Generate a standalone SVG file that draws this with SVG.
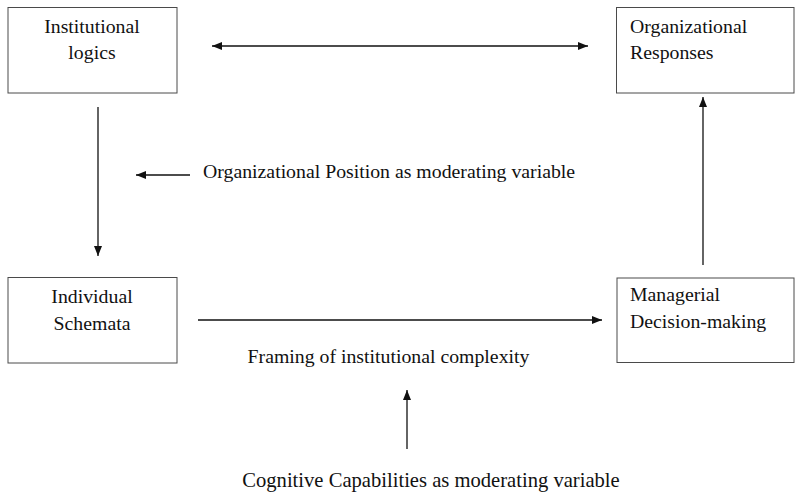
<svg xmlns="http://www.w3.org/2000/svg" width="795" height="492" viewBox="0 0 795 492">
<style>
.box{fill:#fff;stroke:#4a4a4a;stroke-width:1}
.t{font-family:"Liberation Serif","Times New Roman",serif;font-size:19.8px;fill:#111}
.c{text-anchor:middle}
.ln{stroke:#111;stroke-width:1.3;fill:none}
</style>
<defs>
<marker id="ah" viewBox="0 0 10 8" refX="10" refY="4" markerWidth="10" markerHeight="8" markerUnits="userSpaceOnUse" orient="auto-start-reverse">
<path d="M0,0 L10,4 L0,8 Z" fill="#111"/>
</marker>
</defs>
<rect width="795" height="492" fill="#fff"/>
<g id="institutional-logics">
<rect class="box" x="8" y="7.5" width="169" height="85.5"/>
<text class="t c" x="92" y="33">Institutional</text>
<text class="t c" x="92" y="59">logics</text>
</g>
<g id="organizational-responses">
<rect class="box" x="616.5" y="7.5" width="177.5" height="85.5"/>
<text class="t" x="630" y="33">Organizational</text>
<text class="t" x="630" y="59">Responses</text>
</g>
<g id="individual-schemata">
<rect class="box" x="8" y="277.5" width="169" height="85.5"/>
<text class="t c" x="92" y="303">Individual</text>
<text class="t c" x="92" y="330">Schemata</text>
</g>
<g id="managerial-decision-making">
<rect class="box" x="617" y="278" width="177" height="84.5"/>
<text class="t" x="630" y="301">Managerial</text>
<text class="t" x="630" y="328">Decision-making</text>
</g>
<g id="label-position">
<text class="t" x="203" y="178">Organizational Position as moderating variable</text>
</g>
<g id="label-framing">
<text class="t c" x="388.5" y="363">Framing of institutional complexity</text>
</g>
<g id="label-cognitive">
<text class="t c" x="431" y="487" style="font-size:20.6px">Cognitive Capabilities as moderating variable</text>
</g>
<g id="connectors">
<line class="ln" x1="212" y1="46" x2="588" y2="46" marker-start="url(#ah)" marker-end="url(#ah)"/>
<line class="ln" x1="98" y1="107" x2="98" y2="256" marker-end="url(#ah)"/>
<line class="ln" x1="190" y1="175" x2="136" y2="175" marker-end="url(#ah)"/>
<line class="ln" x1="703" y1="265" x2="703" y2="97" marker-end="url(#ah)"/>
<line class="ln" x1="198" y1="320" x2="602" y2="320" marker-end="url(#ah)"/>
<line class="ln" x1="407" y1="449" x2="407" y2="390" marker-end="url(#ah)"/>
</g>
</svg>
